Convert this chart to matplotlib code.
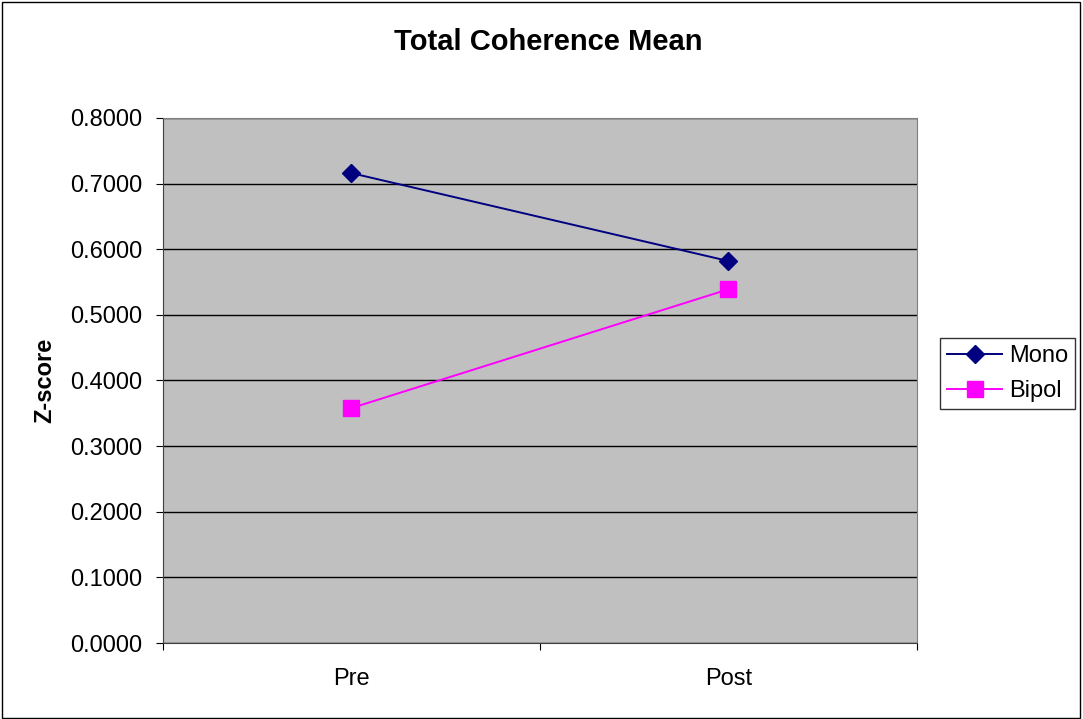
import matplotlib
matplotlib.use("Agg")
import matplotlib.pyplot as plt
from matplotlib.patches import Rectangle

categories = ["Pre", "Post"]
mono = [0.716, 0.582]
bipol = [0.358, 0.539]

plt.rcParams["font.family"] = ["Liberation Sans", "DejaVu Sans"]

fig = plt.figure(figsize=(10.83, 7.19), dpi=100)
fig.patches.append(Rectangle((0.002, 0.002), 0.995, 0.995, transform=fig.transFigure,
                             fill=False, edgecolor="black", linewidth=1))
ax = fig.add_axes([0.1505, 0.1057, 0.6962, 0.7302])
ax.set_facecolor("#c0c0c0")

x = [0.5, 1.5]
ax.plot(x, mono, color="#000080", marker="D", markersize=9, linewidth=1.4, label="Mono")
ax.plot(x, bipol, color="#ff00ff", marker="s", markersize=11, linewidth=1.4, label="Bipol")

ax.set_xlim(0, 2)
ax.set_ylim(0, 0.8)
ax.set_yticks([i / 10 for i in range(9)])
ax.set_yticklabels([f"{i / 10:.4f}" for i in range(9)], fontsize=17)
ax.set_xticks([0, 1, 2])
ax.set_xticklabels([])
ax.set_xticks(x, minor=True)
ax.set_xticklabels(categories, minor=True, fontsize=17)
ax.tick_params(axis="x", which="minor", length=0, pad=18)
ax.tick_params(axis="x", which="major", length=5, direction="out")
ax.tick_params(axis="y", length=5, direction="out", pad=10)
ax.yaxis.grid(True, color="black", linewidth=1)
ax.set_axisbelow(True)
for side in ["top", "right"]:
    ax.spines[side].set_color("#808080")
ax.spines["left"].set_color("#404040")
ax.spines["bottom"].set_color("#404040")

ax.set_ylabel("Z-score", fontsize=17, fontweight="bold")
ax.yaxis.set_label_coords(-0.142, 0.5)
fig.text(0.506, 0.9416, "Total Coherence Mean", ha="center", va="center", fontsize=21, fontweight="bold")

leg = fig.legend(loc="center", bbox_to_anchor=(0.9305, 0.48), fontsize=17,
                 frameon=True, fancybox=False, edgecolor="black", borderpad=0.3,
                 handlelength=2.3, handletextpad=0.3, labelspacing=0.55, borderaxespad=0)
leg.get_frame().set_linewidth(1)

fig.savefig("out.png", dpi=100)
